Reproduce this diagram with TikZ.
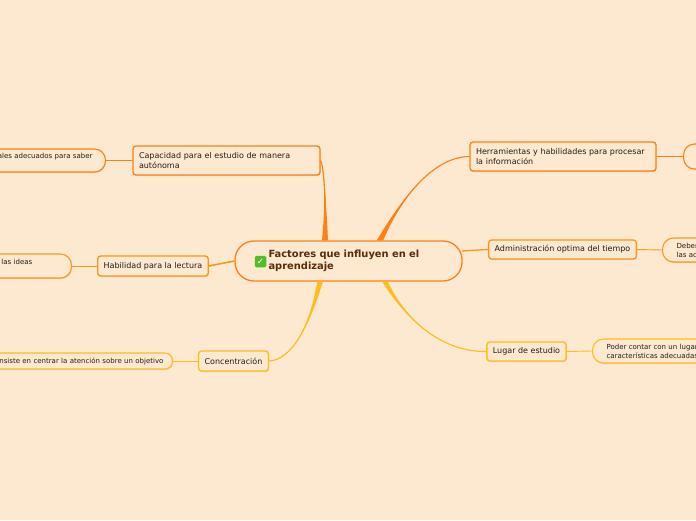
\documentclass[tikz,border=0pt]{standalone}
\usepackage{fontspec}
\setmainfont{DejaVu Sans}
\usetikzlibrary{calc,shadows}
\definecolor{cbg}{RGB}{253,232,208}
\definecolor{corg}{RGB}{255,128,20}
\definecolor{cora}{RGB}{248,152,30}
\definecolor{cyel}{RGB}{255,188,30}
\definecolor{ctxt}{RGB}{35,30,25}
\definecolor{croot}{RGB}{90,45,10}
\definecolor{cchk}{RGB}{80,190,40}

% tapered branch: start, control 1, control 2, end, colour, half width at start
\newcommand{\branch}[6]{%
  \fill[#5] ($#1+(-#6,0)$) .. controls #2 and #3 .. #4 .. controls #3 and #2 .. ($#1+(#6,0)$) -- cycle;
  \draw[#5,line width=1.1pt] #1 .. controls #2 and #3 .. #4;}

\begin{document}
\begin{tikzpicture}[x=1pt,y=-1pt,
  topic/.style={draw,line width=1.3pt,rounded corners=3pt,fill=cbg,text=ctxt,
    font=\fontsize{8}{10}\selectfont,inner xsep=6pt,inner ysep=0pt,
    drop shadow={opacity=0.25,shadow xshift=0.5pt,shadow yshift=-1pt}},
  leaf/.style={draw,line width=1.1pt,rounded corners=11pt,fill=cbg,text=ctxt,
    font=\fontsize{7}{9}\selectfont,inner ysep=0pt,
    drop shadow={opacity=0.25,shadow xshift=0.5pt,shadow yshift=-1pt}},
  link/.style={line width=0.9pt},
]
\useasboundingbox (0,0) rectangle (696,520);
\fill[cbg] (0,0) rectangle (696,520);

% ============================ central topic ============================
\node[draw=corg,line width=1.3pt,rounded corners=19pt,fill=cbg,minimum width=227pt,
  minimum height=40pt,text width=160pt,align=left,text=croot,
  font=\fontsize{9.9}{12.5}\selectfont\bfseries] (root) at (348.5,261)
  {Factores que influyen en el\\aprendizaje};
\node[fill=cchk,rounded corners=1.5pt,minimum size=11.5pt,inner sep=0pt,text=white,
  font=\fontsize{8.5}{8.5}\selectfont\bfseries] (tick) at (260.5,261.5) {✓};

% ============================ left side ============================
\node[topic,draw=corg,text width=175pt,minimum height=29pt,align=left] (cap) at (226.5,160.5)
  {Capacidad para el estudio de manera\\autónoma};
\node[topic,draw=cora,minimum width=110pt,minimum height=20pt] (hab) at (153,266)
  {Habilidad para la lectura};
\node[topic,draw=cyel,minimum width=69pt,minimum height=20pt] (conc) at (233.5,361)
  {Concentración};

\node[leaf,draw=corg,anchor=east,text width=130pt,align=right,minimum height=23pt,
  inner xsep=13pt] (capL) at (106,160.5) {ales adecuados para saber\\\mbox{}};
\node[leaf,draw=cora,anchor=east,text width=56pt,align=left,minimum height=24pt,
  inner xsep=14pt] (habL) at (72,266) {las ideas\\\mbox{}};
\node[leaf,draw=cyel,anchor=east,text width=180pt,align=right,minimum height=16pt,
  rounded corners=7.5pt,inner xsep=9pt] (concL) at (173,361)
  {nsiste en centrar la atención sobre un objetivo};

% ============================ right side ============================
\node[topic,draw=corg,text width=174pt,minimum height=29pt,align=left] (herr) at (563,156.5)
  {Herramientas y habilidades para procesar\\la información};
\node[topic,draw=cora,minimum width=147pt,minimum height=19pt] (adm) at (562.5,249.5)
  {Administración optima del tiempo};
\node[topic,draw=cyel,minimum width=79pt,minimum height=19pt] (lug) at (526.5,351.5)
  {Lugar de estudio};

\node[leaf,draw=corg,anchor=west,minimum width=60pt,minimum height=25pt] (herrL) at (683,156.5) {};
\node[leaf,draw=cora,anchor=west,text width=80pt,align=left,minimum height=24pt,
  inner xsep=14pt] (admL) at (662,250) {Deber\\las ac};
\node[leaf,draw=cyel,anchor=west,text width=110pt,align=left,minimum height=24pt,
  inner xsep=14pt] (lugL) at (592,351) {Poder contar con un lugar\\características adecuadas};

% ============================ branches ============================
\coordinate (capS) at ($(root.north)+(-23.5,0)$);
\coordinate (concS) at ($(root.south)+(-28.5,0)$);
\coordinate (herrS) at ($(root.north)+(31.5,0)$);
\coordinate (lugS) at ($(root.south)+(36.5,0)$);
\coordinate (admS) at ($(root.east)+(-1,-10)$);

\branch{(capS)}{(326,200)}{(324,168)}{(cap.east)}{corg}{3}
\branch{(concS)}{(310,325)}{(292,360)}{(conc.east)}{cyel}{2.8}
\branch{(herrS)}{(398,205)}{(430,157)}{(herr.west)}{corg}{3.2}
\branch{(lugS)}{(405,318)}{(440,352)}{(lug.west)}{cyel}{2.8}
\draw[cora,line width=1.6pt] (root.west) -- (hab.east);
\draw[cora,line width=1.3pt] (admS) -- (adm.west);

% leaf links
\draw[link,corg] (cap.west) -- (capL.east);
\draw[link,cora] (hab.west) -- (habL.east);
\draw[link,cyel] (conc.west) -- (concL.east);
\draw[link,corg] (herr.east) -- (herrL.west);
\draw[link,cora] (adm.east) -- (admL.west);
\draw[link,cyel] (lug.east) -- (lugL.west);
\end{tikzpicture}
\end{document}
